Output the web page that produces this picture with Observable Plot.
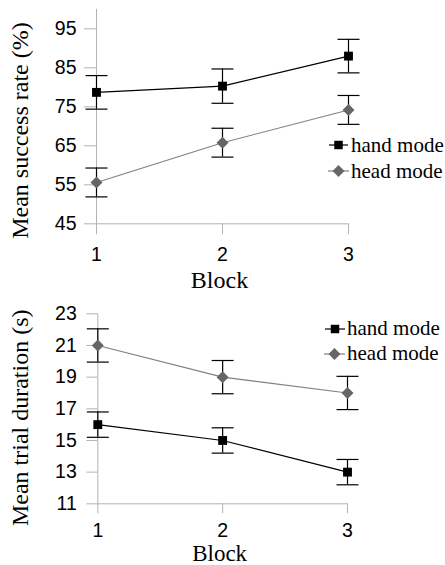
<!DOCTYPE html>
<html>
<head>
<meta charset="utf-8">
<script src="https://cdn.jsdelivr.net/npm/d3@7"></script>
<script src="https://cdn.jsdelivr.net/npm/@observablehq/plot@0.6"></script>
<style>
  html, body { margin: 0; padding: 0; background: #fff; }
  #wrap { position: relative; width: 445px; height: 565px; overflow: hidden; }
  .panel { position: absolute; left: 0; }
  .legend { position: absolute; font-family: "Liberation Serif", "Times New Roman", serif; font-size: 21px; color: #000; }
  .legend .row { position: absolute; display: flex; align-items: center; height: 24px; white-space: nowrap; }
  .legend svg { display: block; }
</style>
</head>
<body>
<div id="wrap"></div>
<script>
// ---- data ----
const blocks = [1, 2, 3];
const seriesNames = ["hand mode", "head mode"];
const handSuccess = [78.7, 80.3, 88.0];
const handSuccessErr = [4.3, 4.4, 4.3];
const headSuccess = [55.6, 65.8, 74.2];
const headSuccessErr = [3.7, 3.7, 3.7];
const handDuration = [16.0, 15.0, 13.0];
const handDurationErr = [0.8, 0.8, 0.8];
const headDuration = [21.0, 19.0, 18.0];
const headDurationErr = [1.05, 1.05, 1.05];
const successTicks = [45, 55, 65, 75, 85, 95];
const durationTicks = [11, 13, 15, 17, 19, 21, 23];

function rowsOf(hand, handErr, head, headErr) {
  const r = [];
  blocks.forEach((b, i) => r.push({series: seriesNames[0], block: b, value: hand[i], err: handErr[i]}));
  blocks.forEach((b, i) => r.push({series: seriesNames[1], block: b, value: head[i], err: headErr[i]}));
  return r;
}

const capSymbol = {
  draw(ctx, size) {
    const w = Math.sqrt(size / Math.PI);
    ctx.moveTo(-w, 0);
    ctx.lineTo(w, 0);
  }
};

const GRAY = "#b3b3b3";
const HEAD_FILL = "#666666";
const HEAD_LINE = "#808080";
const SERIF = "Liberation Serif, Times New Roman, serif";

function chart(o) {
  const rows = o.rows;
  const hand = rows.filter(d => d.series === seriesNames[0]);
  const head = rows.filter(d => d.series === seriesNames[1]);
  return Plot.plot({
    width: 445,
    height: o.height,
    marginTop: o.mt,
    marginBottom: o.mb,
    marginLeft: o.ml,
    marginRight: o.mr,
    style: {fontFamily: "Liberation Sans, Arial, sans-serif", fontSize: "19.5px", color: "#000", background: "transparent", overflow: "visible"},
    x: {domain: [1, 3]},
    y: {domain: o.yDomain},
    marks: [
      Plot.ruleY([o.yDomain[0]], {stroke: GRAY, strokeWidth: 1}),
      Plot.ruleX([1], {stroke: GRAY, strokeWidth: 1}),
      Plot.axisY({ticks: o.ticks, tickSize: o.yTickSize, tickPadding: o.yTickPad, stroke: GRAY, fill: "#000", label: null, tickFormat: d => String(d)}),
      Plot.axisX({ticks: blocks, tickSize: o.xTickSize, tickPadding: o.xTickPad, stroke: GRAY, fill: "#000", label: null, tickFormat: d => String(d)}),
      Plot.line(hand, {x: "block", y: "value", stroke: "#000", strokeWidth: 1.1}),
      Plot.line(head, {x: "block", y: "value", stroke: HEAD_LINE, strokeWidth: 1.1}),
      Plot.ruleX(rows, {x: "block", y1: d => d.value - d.err, y2: d => d.value + d.err, stroke: "#000", strokeWidth: 1.2}),
      Plot.dot(rows, {x: "block", y: d => d.value + d.err, symbol: capSymbol, r: 11, stroke: "#000", strokeWidth: 1.2, fill: "none"}),
      Plot.dot(rows, {x: "block", y: d => d.value - d.err, symbol: capSymbol, r: 11, stroke: "#000", strokeWidth: 1.2, fill: "none"}),
      Plot.dot(hand, {x: "block", y: "value", symbol: "square", r: 5, fill: "#000", stroke: "none"}),
      Plot.dot(head, {x: "block", y: "value", symbol: "diamond2", r: 5.4, fill: HEAD_FILL, stroke: "none"}),
      Plot.text([o.yLabel], {frameAnchor: "left", rotate: -90, dx: o.yLabelDx, dy: o.yLabelDy, fontFamily: SERIF, fontSize: 24, fill: "#000", textAnchor: "middle", lineAnchor: "middle"}),
      Plot.text(["Block"], {frameAnchor: "bottom", dx: -3, dy: o.xLabelDy, fontFamily: SERIF, fontSize: o.xLabelSize, fill: "#000", lineAnchor: "middle"})
    ]
  });
}

const wrap = document.getElementById("wrap");

function addPanel(svg, top) {
  const d = document.createElement("div");
  d.className = "panel";
  d.style.top = top + "px";
  d.appendChild(svg);
  wrap.appendChild(d);
}

addPanel(chart({
  rows: rowsOf(handSuccess, handSuccessErr, headSuccess, headSuccessErr),
  height: 290, mt: 8.8, mb: 66.7, ml: 96, mr: 97,
  yDomain: [45, 100], ticks: successTicks,
  yTickSize: 12, yTickPad: 8, xTickSize: 11, xTickPad: 12,
  yLabel: "Mean success rate (%)", yLabelDx: -76.5, yLabelDy: 14, xLabelDy: 57, xLabelSize: 24
}), 0);

addPanel(chart({
  rows: rowsOf(handDuration, handDurationErr, headDuration, headDurationErr),
  height: 275, mt: 23.3, mb: 61.7, ml: 97.3, mr: 98,
  yDomain: [11, 23], ticks: durationTicks,
  yTickSize: 11, yTickPad: 10, xTickSize: 10, xTickPad: 9.5,
  yLabel: "Mean trial duration (s)", yLabelDx: -77, yLabelDy: 9, xLabelDy: 50, xLabelSize: 23
}), 290);

// ---- legends ----
function legendItem(name, isHand, x0, cy, lineLen, textGap) {
  const row = document.createElement("div");
  row.className = "row";
  row.style.left = x0 + "px";
  row.style.top = (cy - 12) + "px";
  const w = lineLen;
  const ns = "http://www.w3.org/2000/svg";
  const s = document.createElementNS(ns, "svg");
  s.setAttribute("width", w);
  s.setAttribute("height", 24);
  const ln = document.createElementNS(ns, "line");
  ln.setAttribute("x1", 0); ln.setAttribute("x2", w);
  ln.setAttribute("y1", 12); ln.setAttribute("y2", 12);
  ln.setAttribute("stroke", isHand ? "#000" : HEAD_LINE);
  ln.setAttribute("stroke-width", 1.2);
  s.appendChild(ln);
  const p = document.createElementNS(ns, "path");
  const sym = isHand ? d3.symbolSquare : d3.symbolDiamond2;
  const size = isHand ? 72 : 90;
  p.setAttribute("d", d3.symbol(sym, size)());
  p.setAttribute("transform", `translate(${w / 2},12)`);
  p.setAttribute("fill", isHand ? "#000" : HEAD_FILL);
  s.appendChild(p);
  row.appendChild(s);
  const t = document.createElement("span");
  t.textContent = name;
  t.style.marginLeft = textGap + "px";
  row.appendChild(t);
  return row;
}

const leg1 = document.createElement("div");
leg1.className = "legend";
leg1.style.left = "0px"; leg1.style.top = "0px";
leg1.appendChild(legendItem(seriesNames[0], true, 329, 145, 19, 3));
leg1.appendChild(legendItem(seriesNames[1], false, 328, 171, 21, 2));
wrap.appendChild(leg1);

const leg2 = document.createElement("div");
leg2.className = "legend";
leg2.style.left = "0px"; leg2.style.top = "0px";
leg2.appendChild(legendItem(seriesNames[0], true, 325, 328.5, 20, 2));
leg2.appendChild(legendItem(seriesNames[1], false, 324, 353.5, 21, 2));
wrap.appendChild(leg2);
</script>
</body>
</html>
